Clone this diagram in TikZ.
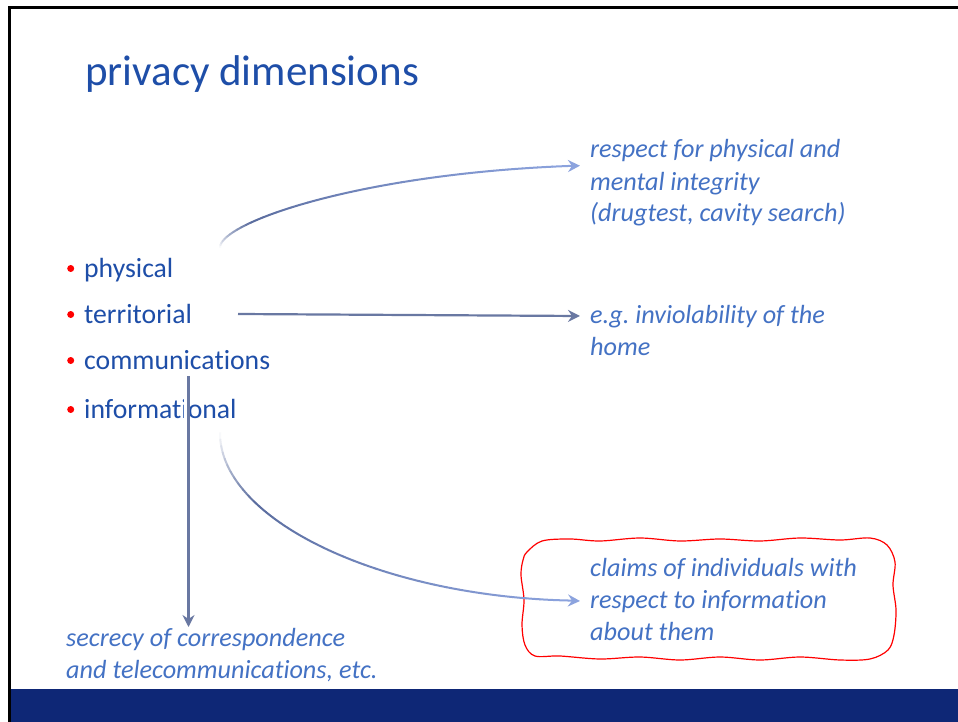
\documentclass[tikz,border=0pt]{standalone}
\usepackage{fontspec}
\setmainfont{Carlito}[Ligatures={NoCommon,NoRare,NoDiscretionary}]
\usetikzlibrary{arrows.meta}
\frenchspacing
\definecolor{titleblue}{RGB}{30,78,168}
\definecolor{itblue}{RGB}{68,114,196}
\definecolor{barblue}{RGB}{14,39,118}
\definecolor{arrdark}{RGB}{90,108,158}
\definecolor{arrlight}{RGB}{140,163,222}
\definecolor{arrgray}{RGB}{105,120,162}
\newcommand\gradcurve[4]{%
  \foreach \i in {0,...,39}{%
    \pgfmathsetmacro\ta{\i/40}%
    \pgfmathsetmacro\tb{(\i+1)/40}%
    \pgfmathsetmacro\tm{(\i+0.5)/40}%
    \pgfmathtruncatemacro\p{\tm<0.28 ? 100*\tm/0.28 : 100*(\tm-0.28)/0.72}%
    \begin{pgfscope}%
    \ifdim\tm pt<0.28pt \colorlet{segc}{arrdark!\p!white}\else\colorlet{segc}{arrlight!\p!arrdark}\fi
    \pgfsetstrokecolor{segc}%
    \pgfsetlinewidth{2pt}%
    \pgfsetroundcap
    \pgfpathcurvebetweentime{\ta}{\tb}{\pgfpointanchor{#1}{center}}{\pgfpointanchor{#2}{center}}{\pgfpointanchor{#3}{center}}{\pgfpointanchor{#4}{center}}%
    \pgfusepath{stroke}%
    \end{pgfscope}%
  }}
\tikzset{
  titletext/.style={anchor=base west, inner sep=0pt, text=titleblue, font=\fontsize{43}{52}\selectfont},
  itemtext/.style={anchor=base west, inner sep=0pt, text=titleblue, font=\fontsize{27.7}{33}\selectfont},
  ittext/.style={anchor=base west, inner sep=0pt, text=itblue, align=left, font=\fontsize{26.2}{32}\selectfont\itshape},
  bulletdot/.style={circle, fill=red, inner sep=0pt, minimum size=7pt},
  bigtip/.style={-{Stealth[length=12pt,width=12pt,inset=4pt]}},
  headtip/.style={bigtip, line width=2pt, arrlight},
}
\begin{document}
\begin{tikzpicture}[x=1pt,y=-1pt]
\useasboundingbox (0,0) rectangle (958,722);
\fill[white] (0,0) rectangle (958,722);
% frame
\draw[black, line width=2.5pt] (9.5,722) -- (9.5,7.5) -- (958,7.5);
\fill[barblue] (10.7,689) rectangle (958,722);
% title
\node[titletext] (title) at (85,86) {privacy dimensions};
% bullets
\node[bulletdot] (d1) at (70.7,268.5) {};
\node[bulletdot] (d2) at (70.7,314.5) {};
\node[bulletdot] (d3) at (70.7,360.5) {};
\node[bulletdot] (d4) at (70.7,409.5) {};
\node[itemtext] (b1) at (84,277) {physical};
\node[itemtext] (b2) at (84,323) {territorial};
\node[itemtext] (b3) at (84,369) {communications};
\node[itemtext] (b4) at (84,418) {informational};
% right texts (base anchor = last line baseline)
\node[ittext] (r1) at (590,222) {respect for physical and\\mental integrity\\(drugtest, cavity search)};
\node[ittext] (r2) at (590,355) {e.g. inviolability of the\\home};
\node[ittext] (r4) at (590,640) {claims of individuals with\\respect to information\\about them};
\node[ittext] (r3) at (66,678) {secrecy of correspondence\\and telecommunications, etc.};
% red hand-drawn outline
\draw[red, line width=1.2pt] plot[smooth cycle, tension=0.55] coordinates {
 (527,552) (542,541) (570,539) (600,541) (640,538) (680,541) (720,539) (760,541) (800,538) (840,540) (870,538) (887,545) (895,562) (893,585) (896,610) (894,635) (888,650) (870,659) (840,660) (800,657) (760,660) (720,657) (680,660) (640,657) (600,659) (560,656) (535,656) (525,645) (522,625) (524,600) (521,575) (523,560)};
% curve 1 (physical)
\coordinate (c1s) at (220,247);
\coordinate (c1a) at (222,222);
\coordinate (c1b) at (360,174);
\coordinate (c1e) at (568,166);
\coordinate (c1t) at (580,165.7);
\gradcurve{c1s}{c1a}{c1b}{c1e}
\draw[headtip] (c1e) -- (c1t);
% curve 4 (informational)
\coordinate (c4s) at (220,433);
\coordinate (c4a) at (220,520);
\coordinate (c4b) at (380,596);
\coordinate (c4e) at (568,600.5);
\coordinate (c4t) at (580,601);
\gradcurve{c4s}{c4a}{c4b}{c4e}
\draw[headtip] (c4e) -- (c4t);
% straight arrow (territorial)
\coordinate (a2s) at (238,314);
\coordinate (a2e) at (580,316);
\draw[arrgray, line width=2.2pt, bigtip] (a2s) -- (a2e);
% vertical arrow (communications)
\coordinate (a3s) at (188.5,376);
\coordinate (a3e) at (188.5,627);
\draw[white, line width=4pt] (186,396) -- (186,422);
\draw[arrgray, line width=2.2pt, bigtip] (a3s) -- (a3e);
\end{tikzpicture}
\end{document}
